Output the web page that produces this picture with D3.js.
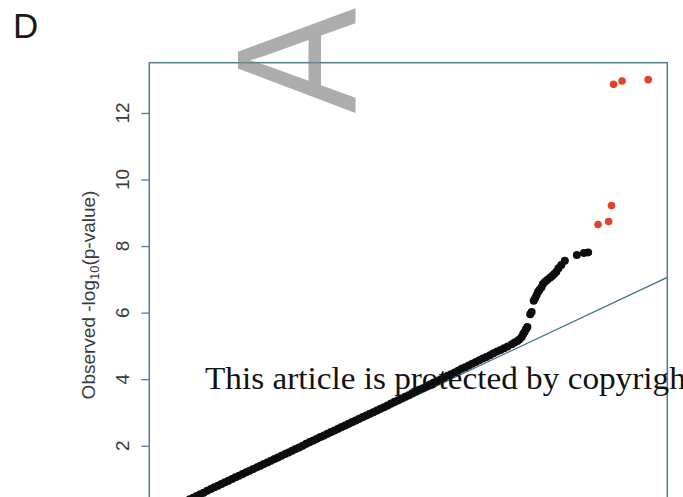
<!DOCTYPE html>
<html>
<head>
<meta charset="utf-8">
<script src="https://cdn.jsdelivr.net/npm/d3@7/dist/d3.min.js"></script>
<style>
  html, body { margin: 0; padding: 0; background: #fff; }
  svg { display: block; }
</style>
</head>
<body>
<svg id="chart" width="683" height="497"></svg>
<script>
// Expected vs observed -log10(p) for the bulk of the tests
const expectedBulk = [
  0.25,0.30,0.35,0.40,0.45,0.50,0.55,0.60,0.65,0.70,0.75,0.80,0.85,0.90,0.95,
  1.00,1.05,1.10,1.15,1.20,1.25,1.30,1.35,1.40,1.45,1.50,1.55,1.60,1.65,1.70,
  1.75,1.80,1.85,1.90,1.95,2.00,2.05,2.10,2.15,2.20,2.25,2.30,2.35,2.40,2.45,
  2.50,2.55,2.60,2.65,2.70,2.75,2.80,2.85,2.90,2.95,3.00,3.05,3.10,3.15,3.20,
  3.25,3.30,3.35,3.40,3.45,3.50,3.55,3.60,3.65,3.70,3.75,3.80,3.85,3.90,3.95,
  4.00,4.05,4.10,4.15,4.20,4.25,4.30,4.35,4.40,4.45,4.50,4.55,4.60,4.65,4.70,
  4.75,4.80
];
const observedBulk = [
  0.34,0.39,0.44,0.49,0.54,0.59,0.65,0.70,0.75,0.80,0.85,0.90,0.95,1.00,1.05,
  1.10,1.15,1.20,1.25,1.30,1.35,1.40,1.45,1.50,1.55,1.60,1.65,1.70,1.75,1.80,
  1.85,1.90,1.95,2.00,2.06,2.11,2.16,2.21,2.26,2.31,2.36,2.41,2.46,2.51,2.56,
  2.61,2.66,2.71,2.76,2.81,2.86,2.91,2.96,3.01,3.06,3.11,3.16,3.21,3.27,3.32,
  3.37,3.42,3.47,3.52,3.58,3.63,3.68,3.73,3.78,3.84,3.89,3.94,3.99,4.04,4.10,
  4.15,4.20,4.25,4.31,4.36,4.41,4.46,4.52,4.57,4.62,4.67,4.72,4.78,4.83,4.88,
  4.93,4.98
];
// Upper tail that departs from the null
const expectedTail = [
  4.86,4.90,4.94,4.97,5.00,5.02,5.04,5.06,5.08,5.12,5.14,5.17,5.19,5.21,5.23,
  5.25,5.28,5.30,5.33,5.36,5.40,5.43,5.46,5.49,5.52,5.56,5.61,5.78,5.88,5.94
];
const observedTail = [
  5.05,5.10,5.15,5.20,5.27,5.35,5.42,5.50,5.57,5.95,6.02,6.36,6.43,6.52,6.62,
  6.68,6.76,6.86,6.93,6.98,7.05,7.10,7.16,7.23,7.33,7.43,7.56,7.73,7.79,7.81
];
// Genome-wide significant hits (drawn in red)
const expectedHits = [6.08, 6.23, 6.27, 6.30, 6.42, 6.79];
const observedHits = [8.65, 8.74, 9.22, 12.86, 12.96, 13.00];

const yTicks = [2, 4, 6, 8, 10, 12];
const panelLabel = "D";
const yTitle = ["Observed -log", "10", "(p-value)"];
const watermark = "A";
const notice = "This article is protected by copyright";

const svg = d3.select("#chart");
const x = d3.scaleLinear().domain([-0.27, 7.06]).range([149.3, 667.3]);
const y = d3.scaleLinear().domain([-0.52, 13.51]).range([529.6, 62.7]);
const frame = "#4f7e90";

// Panel letter
svg.append("text")
  .attr("x", 13).attr("y", 38)
  .attr("font-family", "Liberation Sans, Arial, sans-serif")
  .attr("font-size", 35)
  .attr("fill", "#1a1a1a")
  .text(panelLabel);

// Clip region for plotted marks
svg.append("clipPath").attr("id", "plotclip")
  .append("rect")
  .attr("x", x.range()[0]).attr("y", y.range()[1])
  .attr("width", x.range()[1] - x.range()[0])
  .attr("height", y.range()[0] - y.range()[1]);

const plot = svg.append("g").attr("clip-path", "url(#plotclip)");

// Null reference line y = x
const [x0, x1] = x.domain();
plot.append("line")
  .attr("x1", x(x0)).attr("y1", y(x0))
  .attr("x2", x(x1)).attr("y2", y(x1))
  .attr("stroke", "#3f6f80").attr("stroke-width", 1.2);

const bulk = expectedBulk.map((e, i) => [e, observedBulk[i]]);
const tail = expectedTail.map((e, i) => [e, observedTail[i]]);
const hits = expectedHits.map((e, i) => [e, observedHits[i]]);

plot.selectAll("circle.bulk").data(bulk.concat(tail)).join("circle")
  .attr("class", "bulk")
  .attr("cx", d => x(d[0])).attr("cy", d => y(d[1]))
  .attr("r", 4).attr("fill", "#0d0d0d");

plot.selectAll("circle.hit").data(hits).join("circle")
  .attr("class", "hit")
  .attr("cx", d => x(d[0])).attr("cy", d => y(d[1]))
  .attr("r", 3.8).attr("fill", "#e2412a");

// Plot frame
svg.append("rect")
  .attr("x", x.range()[0]).attr("y", y.range()[1])
  .attr("width", x.range()[1] - x.range()[0])
  .attr("height", y.range()[0] - y.range()[1])
  .attr("fill", "none").attr("stroke", frame).attr("stroke-width", 1.5);

// Y axis ticks
const yAxis = svg.append("g")
  .attr("transform", `translate(${x.range()[0]},0)`)
  .call(d3.axisLeft(y).tickValues(yTicks).tickSize(8).tickFormat(""));
yAxis.select(".domain").remove();
yAxis.selectAll(".tick line").attr("stroke", frame).attr("stroke-width", 1.3);

svg.selectAll("text.ytick").data(yTicks).join("text")
  .attr("class", "ytick")
  .attr("transform", d => `translate(128.5,${y(d)}) rotate(-90)`)
  .attr("text-anchor", "middle")
  .attr("font-family", "Liberation Sans, Arial, sans-serif")
  .attr("font-size", 19)
  .attr("fill", "#3a3a3a")
  .text(d => d);

// Y axis title with subscript base
const title = svg.append("text")
  .attr("transform", "translate(95,295) rotate(-90)")
  .attr("text-anchor", "middle")
  .attr("font-family", "Liberation Sans, Arial, sans-serif")
  .attr("font-size", 19)
  .attr("fill", "#3a3a3a");
title.append("tspan").text(yTitle[0]);
title.append("tspan").attr("font-size", 13).attr("dy", 4).text(yTitle[1]);
title.append("tspan").attr("dy", -4).text(yTitle[2]);

// Watermark letter
svg.append("text")
  .attr("transform", "translate(355,60.5) rotate(-90) scale(0.93,1)")
  .attr("text-anchor", "middle")
  .attr("font-family", "Liberation Sans, Arial, sans-serif")
  .attr("font-size", 170)
  .attr("fill", "#808080")
  .attr("fill-opacity", 0.65)
  .text(watermark);

// Copyright notice
svg.append("text")
  .attr("x", 205).attr("y", 389)
  .attr("font-family", "Liberation Serif, 'Times New Roman', serif")
  .attr("font-size", 31)
  .attr("textLength", 490)
  .attr("lengthAdjust", "spacingAndGlyphs")
  .attr("fill", "#111")
  .text(notice);
</script>
</body>
</html>
